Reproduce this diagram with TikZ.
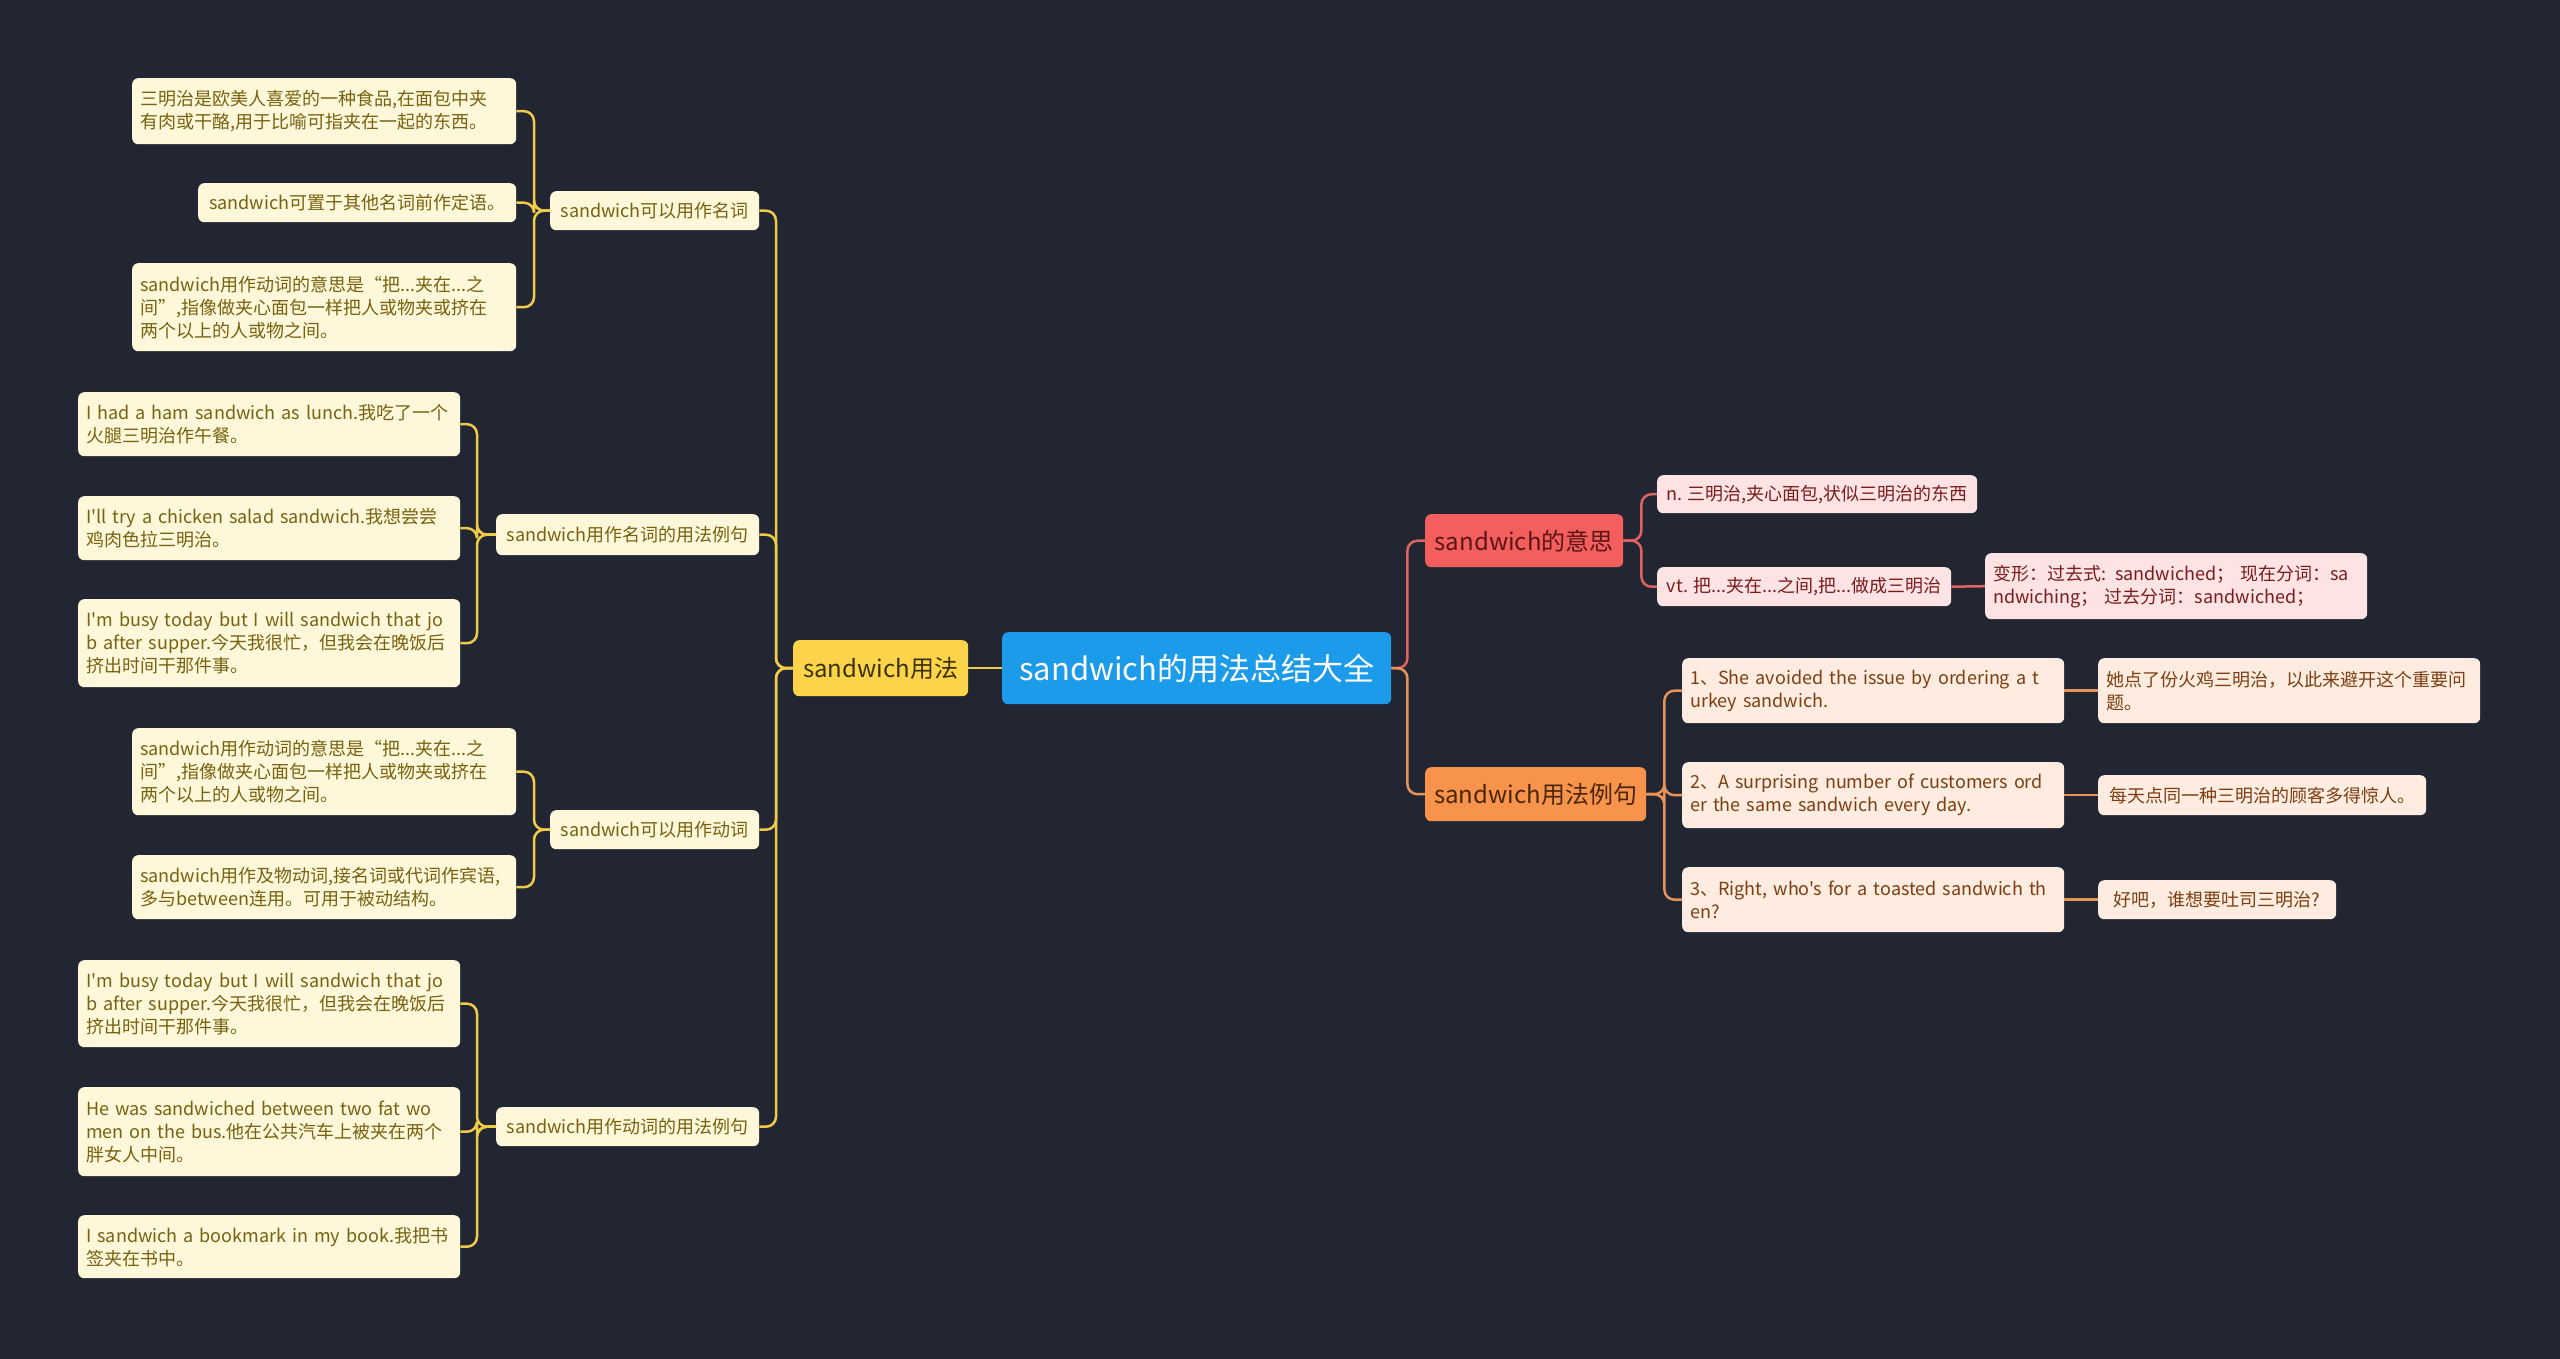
\documentclass[tikz,border=0pt]{standalone}
\usepackage{fontspec}
\setmainfont{Noto Sans CJK SC}[Ligatures=TeXOff]
\definecolor{bg}{HTML}{222633}
\definecolor{rootc}{HTML}{1C9BEA}
\definecolor{ynode}{HTML}{FCD449}
\definecolor{ytext}{HTML}{3B3204}
\definecolor{yline}{HTML}{F0CB48}
\definecolor{cleaf}{HTML}{FEF7DA}
\definecolor{ctext}{HTML}{76620F}
\definecolor{rnode}{HTML}{F45F5E}
\definecolor{rtext}{HTML}{5A1515}
\definecolor{rline}{HTML}{DF6363}
\definecolor{pleaf}{HTML}{FDE3E3}
\definecolor{ptext}{HTML}{7A1C1C}
\definecolor{onode}{HTML}{F8934C}
\definecolor{otext}{HTML}{4B2608}
\definecolor{oline}{HTML}{E79256}
\definecolor{oleaf}{HTML}{FDECDF}
\definecolor{oltext}{HTML}{7C3E12}
\tikzset{
  box/.style={anchor=north west, rounded corners=6pt, inner xsep=8pt, inner ysep=4pt, align=left},
  rootbox/.style={box, fill=rootc, text=white, align=center, font=\fontsize{31}{36}\selectfont},
  ybox/.style={box, fill=ynode, text=ytext, align=center, font=\fontsize{24}{28}\selectfont},
  rbox/.style={box, fill=rnode, text=rtext, align=center, font=\fontsize{24}{28}\selectfont},
  obox/.style={box, fill=onode, text=otext, align=center, font=\fontsize{24}{28}\selectfont},
  cbox/.style={box, fill=cleaf, text=ctext, font=\fontsize{18}{23}\selectfont},
  pbox/.style={box, fill=pleaf, text=ptext, font=\fontsize{18}{23}\selectfont},
  qbox/.style={box, fill=oleaf, text=oltext, font=\fontsize{18}{23}\selectfont},
  sz/.style 2 args={minimum width=#1, minimum height=#2},
  lz/.style 2 args={text width=#1-16pt, minimum height=#2},
  yl/.style={draw=yline, line width=2.5pt, rounded corners=10pt},
  rl/.style={draw=rline, line width=2.5pt, rounded corners=10pt},
  ol/.style={draw=oline, line width=2.5pt, rounded corners=10pt},
}
\begin{document}
\begin{tikzpicture}[x=1pt,y=-1pt]
\fill[bg] (0,0) rectangle (2560,1359);
\useasboundingbox (0,0) rectangle (2560,1359);

% root
\node[rootbox, sz={389pt}{72pt}] (root) at (1002,632) {sandwich的用法总结大全};

% left branch
\node[ybox, sz={175pt}{56pt}] (use) at (793,640) {sandwich用法};

\node[cbox, align=center, sz={209pt}{39pt}] (nA) at (550,191) {sandwich可以用作名词};
\node[cbox, lz={384pt}{66pt}] (a1) at (132,78) {三明治是欧美人喜爱的一种食品,在面包中夹\\有肉或干酪,用于比喻可指夹在一起的东西。};
\node[cbox, sz={318pt}{39pt}] (a2) at (198,183) {sandwich可置于其他名词前作定语。};
\node[cbox, lz={384pt}{88pt}] (a3) at (132,263) {sandwich用作动词的意思是“把...夹在...之\\间”,指像做夹心面包一样把人或物夹或挤在\\两个以上的人或物之间。};

\node[cbox, align=center, sz={263pt}{41pt}] (nB) at (496,514) {sandwich用作名词的用法例句};
\node[cbox, lz={382pt}{64pt}] (b1) at (78,392) {I had a ham sandwich as lunch.我吃了一个\\火腿三明治作午餐。};
\node[cbox, lz={382pt}{64pt}] (b2) at (78,496) {I'll try a chicken salad sandwich.我想尝尝\\鸡肉色拉三明治。};
\node[cbox, lz={382pt}{88pt}] (b3) at (78,599) {I'm busy today but I will sandwich that jo\\b after supper.今天我很忙，但我会在晚饭后\\挤出时间干那件事。};

\node[cbox, align=center, sz={209pt}{39pt}] (nC) at (550,810) {sandwich可以用作动词};
\node[cbox, lz={384pt}{87pt}] (c1) at (132,728) {sandwich用作动词的意思是“把...夹在...之\\间”,指像做夹心面包一样把人或物夹或挤在\\两个以上的人或物之间。};
\node[cbox, lz={384pt}{64pt}] (c2) at (132,855) {sandwich用作及物动词,接名词或代词作宾语,\\多与between连用。可用于被动结构。};

\node[cbox, align=center, sz={263pt}{39pt}] (nD) at (496,1107) {sandwich用作动词的用法例句};
\node[cbox, lz={382pt}{87pt}] (d1) at (78,960) {I'm busy today but I will sandwich that jo\\b after supper.今天我很忙，但我会在晚饭后\\挤出时间干那件事。};
\node[cbox, lz={382pt}{89pt}] (d2) at (78,1087) {He was sandwiched between two fat wo\\men on the bus.他在公共汽车上被夹在两个\\胖女人中间。};
\node[cbox, lz={382pt}{63pt}] (d3) at (78,1215) {I sandwich a bookmark in my book.我把书\\签夹在书中。};

% right branch
\node[rbox, sz={198pt}{53pt}] (mean) at (1425,514) {sandwich的意思};
\node[pbox, sz={320pt}{38pt}] (m1) at (1657,475) {n. 三明治,夹心面包,状似三明治的东西};
\node[pbox, sz={294pt}{39pt}] (m2) at (1657,567) {vt. 把...夹在...之间,把...做成三明治};
\node[pbox, lz={382pt}{66pt}] (m2a) at (1985,553) {变形：过去式: sandwiched； 现在分词：sa\\ndwiching； 过去分词：sandwiched；};

\node[obox, sz={221pt}{54pt}] (ex) at (1425,767) {sandwich用法例句};
\node[qbox, lz={382pt}{65pt}] (e1) at (1682,658) {1、She avoided the issue by ordering a t\\urkey sandwich.};
\node[qbox, lz={382pt}{65pt}] (e1a) at (2098,658) {她点了份火鸡三明治，以此来避开这个重要问\\题。};
\node[qbox, lz={382pt}{66pt}] (e2) at (1682,762) {2、A surprising number of customers ord\\er the same sandwich every day.};
\node[qbox, sz={328pt}{40pt}] (e2a) at (2098,775) {每天点同一种三明治的顾客多得惊人。};
\node[qbox, lz={382pt}{65pt}] (e3) at (1682,867) {3、Right, who's for a toasted sandwich th\\en?};
\node[qbox, sz={238pt}{39pt}] (e3a) at (2098,880) {好吧，谁想要吐司三明治?};

% connectors left
\draw[yl] (root.west) -- (use.east);
\foreach \c in {nA,nB,nC,nD} \draw[yl] (use.west) -- ++(-17,0) |- (\c.east);
\foreach \c in {a1,a2,a3} \draw[yl] (nA.west) -- ++(-16,0) |- (\c.east);
\foreach \c in {b1,b2,b3} \draw[yl] (nB.west) -- ++(-19,0) |- (\c.east);
\foreach \c in {c1,c2} \draw[yl] (nC.west) -- ++(-16,0) |- (\c.east);
\foreach \c in {d1,d2,d3} \draw[yl] (nD.west) -- ++(-19,0) |- (\c.east);

% connectors right
\draw[rl] (root.east) -- ++(16,0) |- (mean.west);
\draw[ol] (root.east) -- ++(16,0) |- (ex.west);
\foreach \c in {m1,m2} \draw[rl] (mean.east) -- ++(18,0) |- (\c.west);
\draw[rl] (m2.east) -- (m2a.west);
\foreach \c in {e1,e2,e3} \draw[ol] (ex.east) -- ++(18,0) |- (\c.west);
\draw[ol] (e1.east) -- (e1a.west);
\draw[ol] (e2.east) -- (e2a.west);
\draw[ol] (e3.east) -- (e3a.west);
\end{tikzpicture}
\end{document}
